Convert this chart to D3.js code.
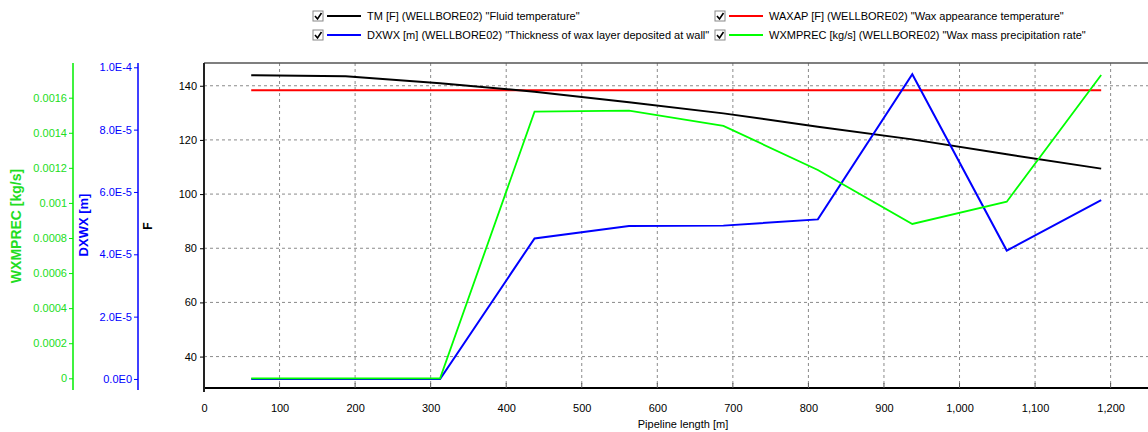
<!DOCTYPE html>
<html><head><meta charset="utf-8">
<script src="https://cdn.jsdelivr.net/npm/d3@7"></script>
<style>
body{margin:0;background:#fff;overflow:hidden;}
text{font-family:"Liberation Sans",Arial,sans-serif;}
</style>
</head><body>
<svg id="chart" width="1148" height="432"></svg>
<script>
// ---- data ----
const lengths = [62.5, 187.5, 312.5, 437.5, 562.5, 687.5, 812.5, 937.5, 1062.5, 1187.5];
const tmF = [143.9, 143.5, 140.9, 137.8, 133.9, 129.8, 124.9, 120.2, 114.7, 109.4];
const waxapF = [138.3, 138.3, 138.3, 138.3, 138.3, 138.3, 138.3, 138.3, 138.3, 138.3];
const dxwx = [0, 0, 0, 4.51e-5, 4.91e-5, 4.92e-5, 5.12e-5, 9.78e-5, 4.12e-5, 5.74e-5];
const wxmprec = [0, 0, 0, 0.00152, 0.001526, 0.001439, 0.001188, 0.00088, 0.001007, 0.001729];

const xTicks = [0, 100, 200, 300, 400, 500, 600, 700, 800, 900, 1000, 1100, 1200];
const xTickLabels = ["0","100","200","300","400","500","600","700","800","900","1,000","1,100","1,200"];
const fTicks = [40, 60, 80, 100, 120, 140];
const dxwxTicks = [0, 2e-5, 4e-5, 6e-5, 8e-5, 1e-4];
const dxwxTickLabels = ["0.0E0", "2.0E-5", "4.0E-5", "6.0E-5", "8.0E-5", "1.0E-4"];
const wxTicks = [0, 0.0002, 0.0004, 0.0006, 0.0008, 0.001, 0.0012, 0.0014, 0.0016];
const wxTickLabels = ["0", "0.0002", "0.0004", "0.0006", "0.0008", "0.001", "0.0012", "0.0014", "0.0016"];

const legendItems = [
  {label: 'TM [F] (WELLBORE02) "Fluid temperature"', color: "#000000"},
  {label: 'WAXAP [F] (WELLBORE02) "Wax appearance temperature"', color: "#ff0000"},
  {label: 'DXWX [m] (WELLBORE02) "Thickness of wax layer deposited at wall"', color: "#0000ff"},
  {label: 'WXMPREC [kg/s] (WELLBORE02) "Wax mass precipitation rate"', color: "#00ff00"}
];

// ---- layout ----
const svg = d3.select("#chart");
const L = 204, R = 1162, T = 63, B = 388;
const GREEN = "#00ee00", GREENTXT = "#22dd22", BLUE = "#0000ff";

const x = d3.scaleLinear().domain([0, 1268]).range([L, R]);
const yF = d3.scaleLinear().domain([28.4, 148.4]).range([B, T]);
const yB = d3.scaleLinear().domain([-2.9e-6, 1.0138e-4]).range([B, T]);
const yG = d3.scaleLinear().domain([-0.0000553, 0.0017978]).range([B, T]);

// grid
const grid = svg.append("g");
xTicks.slice(1).forEach(v => grid.append("line")
  .attr("x1", x(v)).attr("x2", x(v)).attr("y1", T).attr("y2", B)
  .attr("stroke", "#8a8a8a").attr("stroke-dasharray", "3,3").attr("stroke-width", 1));
fTicks.forEach(v => grid.append("line")
  .attr("x1", L).attr("x2", R).attr("y1", yF(v)).attr("y2", yF(v))
  .attr("stroke", "#8a8a8a").attr("stroke-dasharray", "3,3").attr("stroke-width", 1));

// frame
svg.append("line").attr("x1", L).attr("x2", 1148).attr("y1", T).attr("y2", T).attr("stroke", "#555").attr("stroke-width", 1.5);
svg.append("line").attr("x1", L).attr("x2", 1148).attr("y1", B).attr("y2", B).attr("stroke", "#000").attr("stroke-width", 2);
svg.append("line").attr("x1", L).attr("x2", L).attr("y1", T).attr("y2", B + 4).attr("stroke", "#222").attr("stroke-width", 2);

// x axis ticks (inside) and labels
const xa = svg.append("g").attr("transform", `translate(0,${B})`)
  .call(d3.axisBottom(x).tickValues(xTicks).tickSize(0).tickFormat((d, i) => xTickLabels[i]));
xa.select(".domain").remove();
xa.selectAll("text").attr("dy", null).attr("y", 24).attr("font-size", 11).attr("fill", "#000");
xTicks.slice(1).forEach(v => svg.append("line").attr("x1", x(v)).attr("x2", x(v)).attr("y1", B - 5).attr("y2", B).attr("stroke", "#555"));
svg.append("text").attr("x", 683).attr("y", 428).attr("text-anchor", "middle").attr("font-size", 11)
  .text("Pipeline length [m]");

// F axis
const fa = svg.append("g").attr("transform", `translate(${L},0)`)
  .call(d3.axisLeft(yF).tickValues(fTicks).tickSize(4).tickPadding(3).tickFormat(d3.format("d")));
fa.select(".domain").remove();
fa.selectAll("text").attr("font-size", 11).attr("fill", "#000");
fa.selectAll("line").attr("stroke", "#000");
svg.append("text").attr("transform", "translate(152,226) rotate(-90)").attr("text-anchor", "middle")
  .attr("font-size", 12).attr("font-weight", "bold").text("F");

// DXWX axis
const ba = svg.append("g").attr("transform", "translate(138,0)")
  .call(d3.axisLeft(yB).tickValues(dxwxTicks).tickSize(4).tickPadding(2).tickFormat((d, i) => dxwxTickLabels[i]));
ba.select(".domain").remove();
ba.selectAll("text").attr("font-size", 11).attr("fill", BLUE);
ba.selectAll("line").attr("stroke", BLUE);
svg.append("line").attr("x1", 138).attr("x2", 138).attr("y1", T).attr("y2", 390).attr("stroke", BLUE).attr("stroke-width", 1.5);
svg.append("text").attr("transform", "translate(88,225) rotate(-90)").attr("text-anchor", "middle")
  .attr("font-size", 13).attr("font-weight", "bold").attr("fill", BLUE).text("DXWX [m]");

// WXMPREC axis
const ga = svg.append("g").attr("transform", "translate(73,0)")
  .call(d3.axisLeft(yG).tickValues(wxTicks).tickSize(4).tickPadding(2).tickFormat((d, i) => wxTickLabels[i]));
ga.select(".domain").remove();
ga.selectAll("text").attr("font-size", 11).attr("fill", GREENTXT);
ga.selectAll("line").attr("stroke", GREEN);
svg.append("line").attr("x1", 73).attr("x2", 73).attr("y1", T).attr("y2", 390).attr("stroke", GREEN).attr("stroke-width", 1.5);
svg.append("text").attr("transform", "translate(21,226) rotate(-90)").attr("text-anchor", "middle")
  .attr("font-size", 14).attr("font-weight", "bold").attr("fill", GREENTXT).text("WXMPREC [kg/s]");

// series
const lineF = d3.line().x((d, i) => x(lengths[i])).y(d => yF(d));
const lineB = d3.line().x((d, i) => x(lengths[i])).y(d => yB(d));
const lineG = d3.line().x((d, i) => x(lengths[i])).y(d => yG(d));
svg.append("path").datum(waxapF).attr("d", lineF).attr("fill", "none").attr("stroke", "#ff0000").attr("stroke-width", 2);
svg.append("path").datum(tmF).attr("d", lineF).attr("fill", "none").attr("stroke", "#000").attr("stroke-width", 2);
svg.append("path").datum(dxwx).attr("d", lineB).attr("fill", "none").attr("stroke", BLUE).attr("stroke-width", 2);
svg.append("path").datum(wxmprec).attr("d", lineG).attr("fill", "none").attr("stroke", "#00ff00").attr("stroke-width", 1.8);

// legend
const legPos = [[313, 16], [715, 16], [313, 35], [715, 35]];
legendItems.forEach((it, i) => {
  const [lx, ly] = legPos[i];
  const g = svg.append("g").attr("transform", `translate(${lx},${ly})`);
  g.append("rect").attr("x", 0).attr("y", -5).attr("width", 10).attr("height", 10)
    .attr("fill", "#fff").attr("stroke", "#888").attr("stroke-width", 1);
  g.append("path").attr("d", "M2,0 L4.5,3 L8.5,-3").attr("fill", "none").attr("stroke", "#000").attr("stroke-width", 1.6);
  g.append("line").attr("x1", 14).attr("x2", 48).attr("y1", 0).attr("y2", 0).attr("stroke", it.color).attr("stroke-width", 2);
  g.append("text").attr("x", 54).attr("y", 4).attr("font-size", 11).attr("fill", "#000").text(it.label);
});
</script>
</body></html>
